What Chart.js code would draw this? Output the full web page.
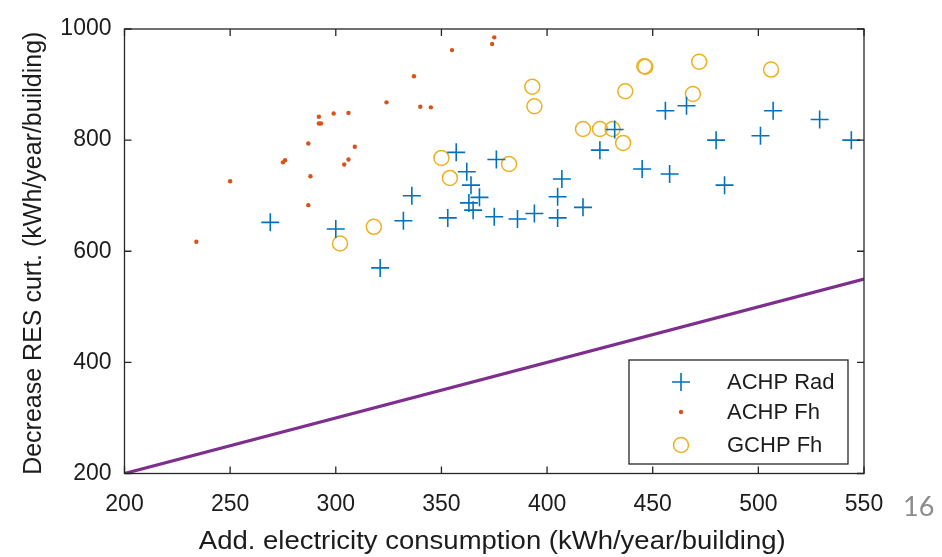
<!DOCTYPE html>
<html>
<head>
<meta charset="utf-8">
<script src="https://cdn.jsdelivr.net/npm/chart.js@4.4.1/dist/chart.umd.min.js"></script>
<style>
  html, body { margin: 0; padding: 0; background: #fff; }
  #wrap { position: relative; width: 942px; height: 557px; }
  #page { position: absolute; left: 903px; top: 490px; font: 27px Lato, "Open Sans", sans-serif; line-height: 32px; color: #8c8c8c; }
</style>
</head>
<body>
<div id="wrap">
  <canvas id="chart" width="942" height="557"></canvas>
  <div id="page">16</div>
</div>
<script>
// axis ranges and tick labels
const xTicks = [200, 250, 300, 350, 400, 450, 500, 550];
const yTicks = [200, 400, 600, 800, 1000];
const xTitle = 'Add. electricity consumption (kWh/year/building)';
const yTitle = 'Decrease RES curt. (kWh/year/building)';

// ACHP with radiators
const achpRadX = [269, 300, 321, 332, 336, 353, 357, 362, 364, 363, 368, 365, 375, 376, 386, 394, 405, 405, 407, 417, 425, 432,
                  456, 466, 480, 501, 507, 529, 544, 445, 458, 484];
const achpRadY = [652, 640, 570, 655, 700, 660, 778, 743, 719, 687, 697, 674, 662, 765, 658, 668, 660, 698, 730, 679, 782, 819,
                  853, 862, 800, 808, 853, 837, 800, 748, 739, 719];

// ACHP with floor heating
const achpFhX = [234, 250, 275, 276, 287, 288, 287, 292, 292, 293, 299, 306, 309, 306, 304, 324, 337, 340, 345, 355, 374, 375];
const achpFhY = [617, 726, 760, 764, 794, 735, 683, 842, 830, 830, 848, 849, 788, 765, 756, 868, 915, 860, 859, 962, 973, 985];

// GCHP with floor heating
const gchpFhX = [302, 318, 350, 354, 382, 393, 394, 417, 425, 431, 436, 437, 446, 446.5, 472, 469, 506];
const gchpFhY = [614, 644, 768, 732, 757, 896, 861, 820, 820, 820, 795, 888, 933, 932, 941, 883, 927];

// reference line y = x
const refX = [200, 550];
const refY = [200, 550];

const toPoints = (xs, ys) => xs.map((x, i) => ({ x, y: ys[i] }));

const AXIS_COLOR = '#1c1c1c';
const FONT = "'Liberation Sans', Arial, sans-serif";

// box round the plot, inward ticks on all four sides, axis titles and legend
const frame = {
    id: 'frame',
    afterDatasetsDraw(chart) {
        const { ctx, chartArea: a, scales } = chart;
        const tl = 7;
        ctx.save();
        ctx.strokeStyle = '#262626';
        ctx.lineWidth = 1.3;
        ctx.strokeRect(a.left, a.top, a.right - a.left, a.bottom - a.top);
        ctx.beginPath();
        xTicks.forEach(v => {
            const px = scales.x.getPixelForValue(v);
            ctx.moveTo(px, a.bottom); ctx.lineTo(px, a.bottom - tl);
            ctx.moveTo(px, a.top); ctx.lineTo(px, a.top + tl);
        });
        yTicks.forEach(v => {
            const py = scales.y.getPixelForValue(v);
            ctx.moveTo(a.left, py); ctx.lineTo(a.left + tl, py);
            ctx.moveTo(a.right, py); ctx.lineTo(a.right - tl, py);
        });
        ctx.stroke();

        // axis titles (x title is a little wider than the font's own metrics)
        ctx.fillStyle = AXIS_COLOR;
        ctx.font = '25px ' + FONT;
        ctx.textAlign = 'center';
        ctx.textBaseline = 'middle';
        ctx.save();
        ctx.translate((a.left + a.right) / 2 - 2, 542);
        ctx.scale(1.1, 1);
        ctx.fillText(xTitle, 0, 0);
        ctx.restore();
        ctx.translate(34, (a.top + a.bottom) / 2 + 2);
        ctx.rotate(-Math.PI / 2);
        ctx.fillText(yTitle, 0, 0);
        ctx.restore();

        // legend
        ctx.save();
        const box = { x: 629, y: 360, w: 219, h: 104 };
        ctx.fillStyle = '#fff';
        ctx.fillRect(box.x, box.y, box.w, box.h);
        ctx.strokeStyle = '#262626';
        ctx.lineWidth = 1.3;
        ctx.strokeRect(box.x, box.y, box.w, box.h);
        const rows = [382, 412, 445];
        ctx.font = '22px ' + FONT;
        ctx.textAlign = 'left';
        ctx.textBaseline = 'middle';
        chart.data.datasets.slice(0, 3).forEach((ds, i) => {
            const mx = 681, my = rows[i];
            ctx.strokeStyle = ds.borderColor;
            ctx.fillStyle = ds.backgroundColor;
            ctx.lineWidth = ds.borderWidth;
            ctx.beginPath();
            if (ds.pointStyle === 'cross') {
                ctx.moveTo(mx - ds.pointRadius, my); ctx.lineTo(mx + ds.pointRadius, my);
                ctx.moveTo(mx, my - ds.pointRadius); ctx.lineTo(mx, my + ds.pointRadius);
                ctx.stroke();
            } else {
                ctx.arc(mx, my, ds.pointRadius, 0, Math.PI * 2);
                if (ds.label === 'ACHP Fh') ctx.fill(); else ctx.stroke();
            }
            ctx.fillStyle = AXIS_COLOR;
            ctx.fillText(ds.label, 727, my + 1);
        });
        ctx.restore();
    }
};

new Chart(document.getElementById('chart'), {
    type: 'scatter',
    data: {
        datasets: [
            {
                label: 'ACHP Rad',
                data: toPoints(achpRadX, achpRadY),
                pointStyle: 'cross',
                pointRadius: 9,
                borderColor: '#0072BD',
                backgroundColor: '#0072BD',
                borderWidth: 1.6
            },
            {
                label: 'ACHP Fh',
                data: toPoints(achpFhX, achpFhY),
                pointStyle: 'circle',
                pointRadius: 2.2,
                borderColor: '#D95319',
                backgroundColor: '#D95319',
                borderWidth: 0
            },
            {
                label: 'GCHP Fh',
                data: toPoints(gchpFhX, gchpFhY),
                pointStyle: 'circle',
                pointRadius: 7.5,
                borderColor: '#EDB120',
                backgroundColor: 'rgba(0,0,0,0)',
                borderWidth: 1.5
            },
            {
                label: 'y = x',
                type: 'line',
                data: toPoints(refX, refY),
                borderColor: '#7E2F8E',
                borderWidth: 3.2,
                pointRadius: 0,
                fill: false
            }
        ]
    },
    options: {
        responsive: false,
        animation: false,
        events: [],
        layout: { padding: { top: 29, right: 78, left: 0, bottom: 0 } },
        plugins: {
            legend: { display: false },
            tooltip: { enabled: false }
        },
        scales: {
            x: {
                type: 'linear',
                min: 200,
                max: 550,
                afterBuildTicks: s => { s.ticks = xTicks.map(v => ({ value: v })); },
                afterFit: s => { s.height = 83.5; },
                grid: { display: false },
                border: { display: false },
                ticks: {
                    color: AXIS_COLOR,
                    font: { family: FONT, size: 23 },
                    padding: 9,
                    maxRotation: 0,
                    callback: v => String(v)
                }
            },
            y: {
                type: 'linear',
                min: 200,
                max: 1000,
                afterBuildTicks: s => { s.ticks = yTicks.map(v => ({ value: v })); },
                afterFit: s => { s.width = 124.5; },
                grid: { display: false },
                border: { display: false },
                ticks: {
                    color: AXIS_COLOR,
                    font: { family: FONT, size: 23 },
                    padding: 5,
                    callback: v => String(v)
                }
            }
        }
    },
    plugins: [frame]
});
</script>
</body>
</html>
